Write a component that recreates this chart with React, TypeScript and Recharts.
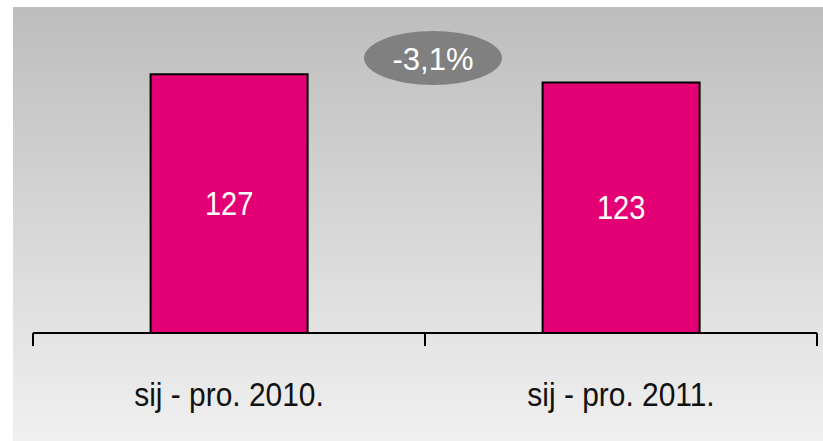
import React from "react";
import { BarChart, Bar, XAxis, YAxis, LabelList, Customized } from "recharts";

const categories = ["sij - pro. 2010.", "sij - pro. 2011."];
const values = [127, 123];
const yDomainMax = 160;

const data = categories.map((name, i) => ({ name, value: values[i] }));

const FONT = "'Liberation Sans', Arial, Helvetica, sans-serif";
const NARROW = 0.88;
const TICK_SIZE = 13;
const TICK_MARGIN = 37;

const changePct = ((values[1] - values[0]) / values[0]) * 100;
const changeText = `${changePct.toFixed(1).replace(".", ",")}%`;

const CategoryTick = (props: any) => {
  const { x, y, payload, index } = props;
  const half = payload?.offset ?? 0;
  const axisY = y - TICK_SIZE - TICK_MARGIN;
  const isLast = index === categories.length - 1;
  return (
    <g>
      <line x1={x - half} x2={x - half} y1={axisY} y2={axisY + TICK_SIZE} stroke="#000" strokeWidth={2} />
      {isLast && (
        <line x1={x + half} x2={x + half} y1={axisY} y2={axisY + TICK_SIZE} stroke="#000" strokeWidth={2} />
      )}
      <text
        transform={`translate(${x},${y}) scale(${NARROW},1)`}
        x={0}
        y={0}
        dy="0.69em"
        textAnchor="middle"
        fill="#111"
        fontSize={34}
        fontFamily={FONT}
      >
        {payload.value}
      </text>
    </g>
  );
};

const BarValueLabel = (props: any) => {
  const { x, y, width, height, value } = props;
  const cx = Number(x) + Number(width) / 2;
  const cy = Number(y) + Number(height) / 2;
  return (
    <text
      transform={`translate(${cx},${cy}) scale(${NARROW},1)`}
      x={0}
      y={0}
      dy="0.355em"
      textAnchor="middle"
      fill="#fff"
      fontSize={33}
      fontFamily={FONT}
    >
      {value}
    </text>
  );
};

const ChangeBadge = () => (
  <g>
    <ellipse cx={433} cy={58} rx={69} ry={27} fill="#808080" />
    <text x={433} y={70} textAnchor="middle" fill="#fff" fontSize={31} fontFamily={FONT}>
      {changeText}
    </text>
  </g>
);

export default function App() {
  return (
    <div style={{ position: "absolute", left: 0, top: 0, width: 823, height: 441, background: "#fff" }}>
      <div
        style={{
          position: "absolute",
          left: 13,
          top: 7,
          width: 810,
          height: 434,
          background: "linear-gradient(#bdbdbd, #f0f0f0)",
        }}
      />
      <div style={{ position: "absolute", left: 0, top: 0 }}>
        <BarChart
          width={823}
          height={441}
          data={data}
          margin={{ top: 7, right: 6, left: 33, bottom: 78 }}
          barCategoryGap="30%"
        >
          <XAxis
            dataKey="name"
            height={30}
            axisLine={{ stroke: "#000", strokeWidth: 2 }}
            tickLine={false}
            tickSize={TICK_SIZE}
            tickMargin={TICK_MARGIN}
            tick={<CategoryTick />}
            interval={0}
          />
          <YAxis hide domain={[0, yDomainMax]} />
          <Bar dataKey="value" fill="#e20074" stroke="#000" strokeWidth={2} isAnimationActive={false}>
            <LabelList dataKey="value" content={<BarValueLabel />} />
          </Bar>
          <Customized component={<ChangeBadge />} />
        </BarChart>
      </div>
    </div>
  );
}
